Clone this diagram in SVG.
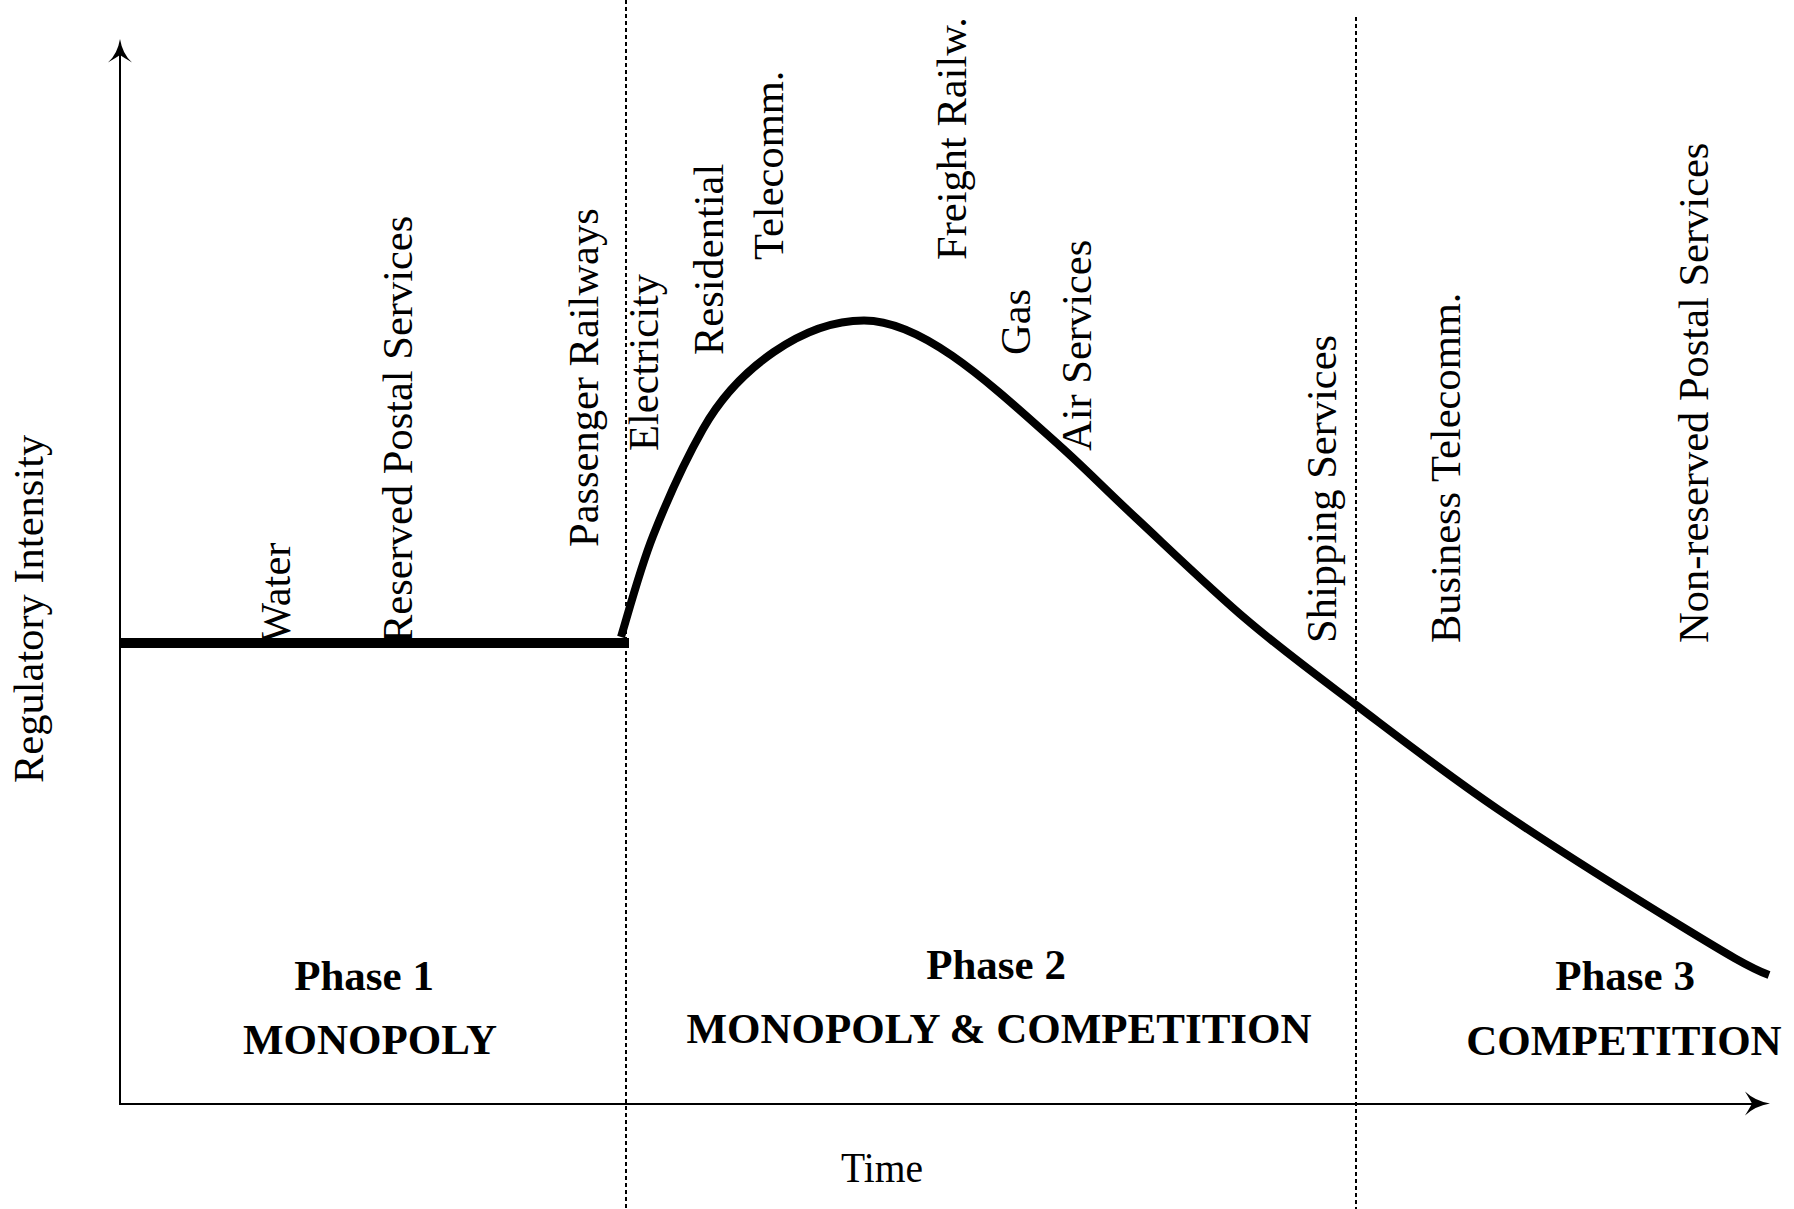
<svg xmlns="http://www.w3.org/2000/svg" width="1794" height="1209" viewBox="0 0 1794 1209">
  <style>
    .axis { stroke: #000; stroke-width: 2; fill: none; }
    .head { fill: #000; stroke: none; }
    .phase-sep { stroke: #000; stroke-width: 2; stroke-dasharray: 4 3; fill: none; }
    .curve { stroke: #000; stroke-width: 8; fill: none; stroke-linejoin: round; }
    .base { stroke: #000; stroke-width: 10; fill: none; }
    .lbl { font-family: "Liberation Serif", "Times New Roman", serif; font-size: 42.5px; fill: #000; }
    .phase { font-family: "Liberation Serif", "Times New Roman", serif; font-size: 43px; font-weight: bold; fill: #000; text-anchor: middle; }
  </style>

  <rect width="1794" height="1209" fill="#fff"/>

  <!-- phase boundaries -->
  <g id="boundaries">
    <line class="phase-sep" x1="626" y1="0" x2="626" y2="1209"/>
    <line class="phase-sep" x1="1356" y1="17" x2="1356" y2="1209"/>
  </g>

  <!-- sector labels, written bottom-to-top -->
  <g id="sectors" class="lbl">
    <text transform="translate(290,643) rotate(-90)">Water</text>
    <text transform="translate(412,643) rotate(-90)">Reserved Postal Services</text>
    <text transform="translate(598,547) rotate(-90)">Passenger Railways</text>
    <text transform="translate(658,451) rotate(-90)">Electricity</text>
    <text transform="translate(723,355) rotate(-90)">Residential</text>
    <text transform="translate(783,260) rotate(-90)">Telecomm.</text>
    <text transform="translate(966,260) rotate(-90)">Freight Railw.</text>
    <text transform="translate(1030,355) rotate(-90)">Gas</text>
    <text transform="translate(1091,451) rotate(-90)">Air Services</text>
    <text transform="translate(1336,643) rotate(-90)">Shipping Services</text>
    <text transform="translate(1460,643) rotate(-90)">Business Telecomm.</text>
    <text transform="translate(1708,643) rotate(-90)">Non-reserved Postal Services</text>
  </g>

  <!-- axes -->
  <g id="axes">
    <line class="axis" x1="120" y1="1104" x2="120" y2="46"/>
    <path class="head" d="M120,39 Q122.5,54 132,62.5 Q124,57.5 120,55 Q116,57.5 108,62.5 Q117.5,54 120,39 Z"/>
    <line class="axis" x1="119" y1="1104" x2="1762" y2="1104"/>
    <path class="head" d="M1770,1103.5 Q1755,1106 1745,1115.5 Q1750,1107.5 1752,1103.5 Q1750,1099.5 1745,1091.5 Q1755,1101 1770,1103.5 Z"/>
    <text class="lbl" transform="translate(43,783) rotate(-90)">Regulatory Intensity</text>
    <text class="lbl" x="841" y="1182" textLength="82" lengthAdjust="spacingAndGlyphs">Time</text>
  </g>

  <!-- regulatory intensity over time -->
  <g id="intensity">
    <line class="base" x1="120" y1="643" x2="629" y2="643"/>
    <path class="curve" d="M621,637 C626.3,620.2 639.3,570.7 653,536 C666.7,501.3 687.3,456.7 703,429 C737.5,368.1 804,320.5 864,320.5 C924,320.5 992.8,386.2 1060,446 C1084.7,468 1104.8,489 1136,518 C1167.2,547 1210.3,588.8 1247,620 C1283.7,651.2 1314,673.3 1356,705 C1398,736.7 1444.8,773.2 1499,810 C1553.2,846.8 1636,898.5 1681,926 C1726,953.5 1750,968 1769,975"/>
  </g>

  <!-- phase titles -->
  <g id="phase1" class="phase">
    <text x="364" y="990">Phase 1</text>
    <text x="370" y="1054">MONOPOLY</text>
  </g>
  <g id="phase2" class="phase">
    <text x="996" y="979">Phase 2</text>
    <text x="999" y="1043">MONOPOLY &amp; COMPETITION</text>
  </g>
  <g id="phase3" class="phase">
    <text x="1625" y="990">Phase 3</text>
    <text x="1624" y="1055">COMPETITION</text>
  </g>
</svg>
